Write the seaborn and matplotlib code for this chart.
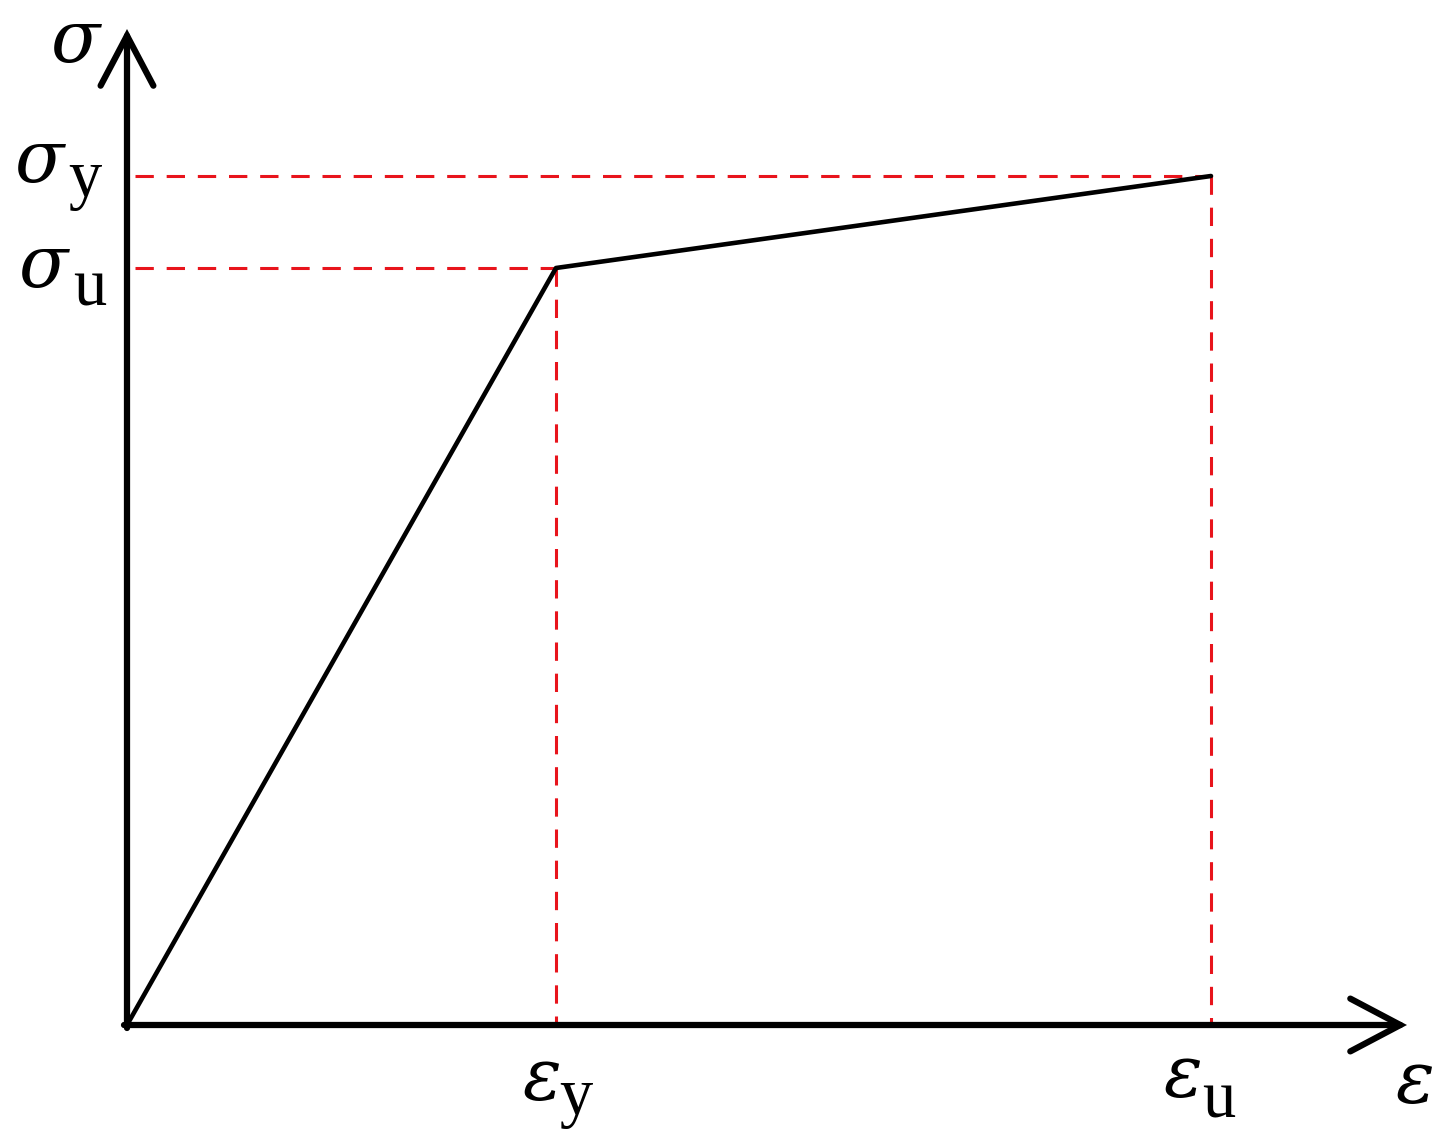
import matplotlib
matplotlib.use("Agg")
import matplotlib.pyplot as plt
import seaborn as sns
import pandas as pd

# data (arbitrary units)
strain = [0.0, 4.29, 10.84]
stress = [0.0, 7.57, 8.49]
x_axis_end = 12.80
y_axis_end = 9.96

sns.set_theme(style="white")
plt.rcParams['font.family'] = ['Liberation Serif', 'DejaVu Serif']
plt.rcParams['text.color'] = 'black'

fig = plt.figure(figsize=(14.54, 11.38), dpi=100)
ax = fig.add_axes([0, 0, 1, 1])
ax.set_xlim(-1.27, 13.27)
ax.set_ylim(-1.13, 10.25)
ax.axis('off')

df = pd.DataFrame({"strain": strain, "stress": stress})

# red dashed guides
red = "#e8141c"
dash = dict(color=red, lw=2.2, dashes=(6, 4.2), zorder=2)
ax.plot([0.08, strain[2]], [stress[2], stress[2]], **dash)
ax.plot([0.08, strain[1]], [stress[1], stress[1]], **dash)
ax.plot([strain[1], strain[1]], [stress[1], 0], **dash)
ax.plot([strain[2], strain[2]], [stress[2], 0], **dash)

sns.lineplot(data=df, x="strain", y="stress", ax=ax, color="black", lw=3.3,
             sort=False, zorder=3)
ax.set_xlabel(""); ax.set_ylabel("")

# axes arrows
ap = dict(arrowstyle="->,head_length=1.8,head_width=0.95", color="black", lw=4.5,
          shrinkA=0, shrinkB=0, mutation_scale=20, joinstyle="miter", capstyle="round")
ax.annotate("", xy=(x_axis_end, 0), xytext=(-0.03, 0), arrowprops=ap, zorder=4)
ax.annotate("", xy=(0, y_axis_end), xytext=(0, -0.03), arrowprops=ap, zorder=4)

MAIN = 52
SUB = 48
GREEK_FONT = ['DejaVu Serif']

def px(x, y):
    return ((x - 127) / 100.0, (1025 - y) / 100.0)

def label(sym, sub, x_sym, base_sym, x_sub=None, base_sub=None):
    ax.text(*px(x_sym, base_sym), sym, fontsize=MAIN, fontstyle="italic",
            family=GREEK_FONT, ha="left", va="baseline")
    if sub:
        ax.text(*px(x_sub, base_sub), sub, fontsize=SUB, ha="left", va="baseline")

label("σ", None, 50, 62)
label("σ", "y", 14, 182, 68, 197)
label("σ", "u", 18, 287, 73, 305)
label("ε", "y", 522, 1100, 559, 1115)
label("ε", "u", 1163, 1097, 1202, 1117)
label("ε", None, 1395, 1103)

fig.savefig("out.png", dpi=100)
